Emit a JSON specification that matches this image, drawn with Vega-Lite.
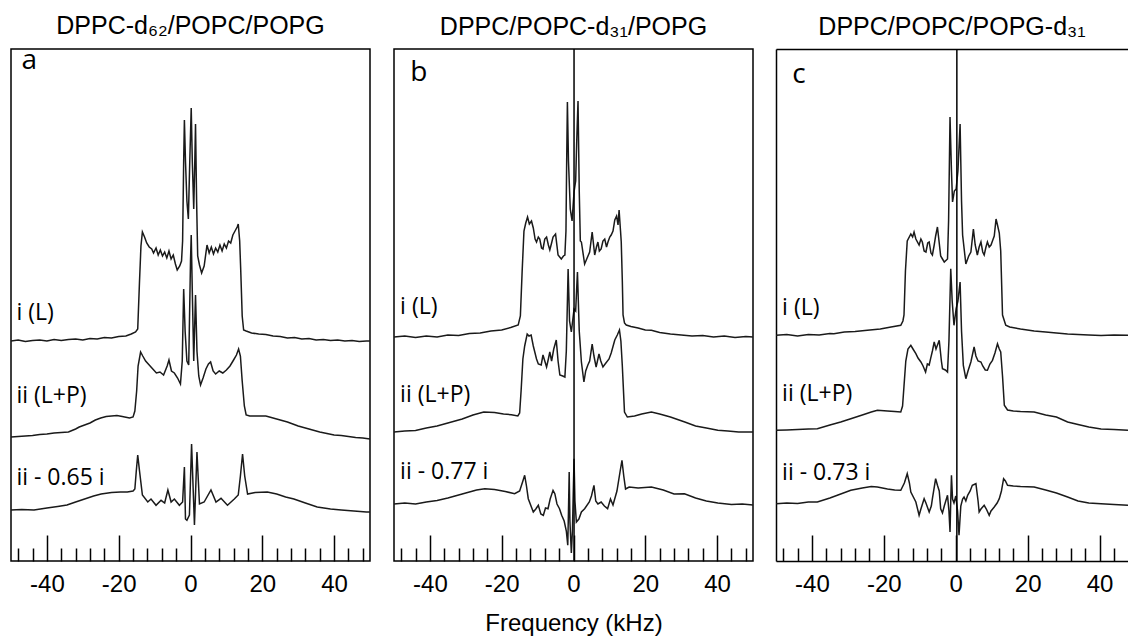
{
  "$schema": "https://vega.github.io/schema/vega-lite/v6.json",
  "padding": {"left": 10, "top": 13, "right": 0, "bottom": 0},
  "background": "white",
  "spacing": 22,
  "config": {
    "view": {"stroke": "black", "strokeWidth": 1.5},
    "font": "Liberation Sans",
    "title": {"fontSize": 25, "fontWeight": "normal", "font": "Liberation Sans", "offset": 8, "baseline": "alphabetic", "color": "black"},
    "axis": {"labelFont": "Liberation Sans", "labelColor": "black", "titleFont": "Liberation Sans", "titleColor": "black", "grid": false}
  },
  "datasets": {
    "a": [
      {"s":"i","f":-50,"v":220},{"s":"i","f":-48,"v":221},{"s":"i","f":-46,"v":219.5},{"s":"i","f":-44,"v":220.5},{"s":"i","f":-42,"v":221},{"s":"i","f":-40,"v":220},{"s":"i","f":-38,"v":221.5},{"s":"i","f":-36,"v":220.5},{"s":"i","f":-34,"v":221.5},{"s":"i","f":-32,"v":222},{"s":"i","f":-30,"v":221},{"s":"i","f":-28,"v":222.5},{"s":"i","f":-26,"v":222},{"s":"i","f":-24,"v":223.5},{"s":"i","f":-22,"v":223},{"s":"i","f":-20,"v":224.5},{"s":"i","f":-18,"v":225},{"s":"i","f":-16.5,"v":227},{"s":"i","f":-15.3,"v":229},{"s":"i","f":-14.7,"v":232},{"s":"i","f":-14.2,"v":280},{"s":"i","f":-13.8,"v":315},{"s":"i","f":-13.4,"v":329},{"s":"i","f":-12.8,"v":324},{"s":"i","f":-12.2,"v":318},{"s":"i","f":-11.5,"v":314},{"s":"i","f":-10.8,"v":312},{"s":"i","f":-10.3,"v":308},{"s":"i","f":-9.6,"v":313},{"s":"i","f":-9,"v":306},{"s":"i","f":-8.4,"v":311},{"s":"i","f":-7.8,"v":305},{"s":"i","f":-7.2,"v":309},{"s":"i","f":-6.6,"v":303},{"s":"i","f":-6,"v":310},{"s":"i","f":-5.4,"v":302},{"s":"i","f":-4.8,"v":306},{"s":"i","f":-4.2,"v":297},{"s":"i","f":-3.7,"v":291},{"s":"i","f":-3,"v":295},{"s":"i","f":-2.5,"v":300},{"s":"i","f":-2.2,"v":320},{"s":"i","f":-1.9,"v":400},{"s":"i","f":-1.7,"v":441},{"s":"i","f":-1.4,"v":400},{"s":"i","f":-1.0,"v":360},{"s":"i","f":-0.6,"v":342},{"s":"i","f":-0.2,"v":400},{"s":"i","f":0.2,"v":453},{"s":"i","f":0.5,"v":400},{"s":"i","f":0.9,"v":352},{"s":"i","f":1.2,"v":400},{"s":"i","f":1.4,"v":437},{"s":"i","f":1.7,"v":360},{"s":"i","f":2.0,"v":305},{"s":"i","f":2.5,"v":296},{"s":"i","f":3.1,"v":288},{"s":"i","f":3.8,"v":295},{"s":"i","f":4.6,"v":316},{"s":"i","f":5.2,"v":308},{"s":"i","f":5.8,"v":314},{"s":"i","f":6.4,"v":307},{"s":"i","f":7,"v":313},{"s":"i","f":7.6,"v":309},{"s":"i","f":8.2,"v":316},{"s":"i","f":8.8,"v":310},{"s":"i","f":9.4,"v":317},{"s":"i","f":10,"v":313},{"s":"i","f":10.6,"v":320},{"s":"i","f":11.2,"v":318},{"s":"i","f":11.8,"v":326},{"s":"i","f":12.4,"v":330},{"s":"i","f":13,"v":334},{"s":"i","f":13.3,"v":337},{"s":"i","f":13.7,"v":320},{"s":"i","f":14.0,"v":290},{"s":"i","f":14.4,"v":245},{"s":"i","f":14.8,"v":231},{"s":"i","f":15.5,"v":230},{"s":"i","f":17,"v":228},{"s":"i","f":19,"v":227},{"s":"i","f":21,"v":226.5},{"s":"i","f":23,"v":225},{"s":"i","f":25,"v":224.5},{"s":"i","f":27,"v":223},{"s":"i","f":29,"v":223.5},{"s":"i","f":31,"v":222},{"s":"i","f":33,"v":222.5},{"s":"i","f":35,"v":221},{"s":"i","f":37,"v":221.5},{"s":"i","f":39,"v":220.5},{"s":"i","f":41,"v":221},{"s":"i","f":43,"v":220},{"s":"i","f":45,"v":220.5},{"s":"i","f":47,"v":219.5},{"s":"i","f":49,"v":220},{"s":"i","f":50,"v":220},
      {"s":"ii","f":-50,"v":124},{"s":"ii","f":-48,"v":124.5},{"s":"ii","f":-46,"v":125},{"s":"ii","f":-44,"v":125.5},{"s":"ii","f":-42,"v":126.5},{"s":"ii","f":-40,"v":127},{"s":"ii","f":-38,"v":128},{"s":"ii","f":-36,"v":128.5},{"s":"ii","f":-34,"v":129},{"s":"ii","f":-32,"v":132},{"s":"ii","f":-31,"v":134},{"s":"ii","f":-29.5,"v":136},{"s":"ii","f":-28,"v":138},{"s":"ii","f":-26.5,"v":141},{"s":"ii","f":-25,"v":143},{"s":"ii","f":-23.5,"v":144.5},{"s":"ii","f":-22,"v":145},{"s":"ii","f":-20.5,"v":145.5},{"s":"ii","f":-19,"v":144.5},{"s":"ii","f":-17,"v":143},{"s":"ii","f":-16,"v":144},{"s":"ii","f":-15.5,"v":150},{"s":"ii","f":-15,"v":170},{"s":"ii","f":-14.6,"v":195},{"s":"ii","f":-13.9,"v":209},{"s":"ii","f":-13.3,"v":205},{"s":"ii","f":-12.5,"v":200},{"s":"ii","f":-11.5,"v":196},{"s":"ii","f":-10.5,"v":192},{"s":"ii","f":-9.5,"v":188},{"s":"ii","f":-8.5,"v":189},{"s":"ii","f":-7.5,"v":186},{"s":"ii","f":-6.5,"v":195},{"s":"ii","f":-6,"v":201},{"s":"ii","f":-5.3,"v":190},{"s":"ii","f":-4.5,"v":188},{"s":"ii","f":-3.6,"v":183},{"s":"ii","f":-2.8,"v":177},{"s":"ii","f":-2.3,"v":200},{"s":"ii","f":-1.9,"v":272},{"s":"ii","f":-1.5,"v":230},{"s":"ii","f":-1.0,"v":200},{"s":"ii","f":-0.5,"v":196},{"s":"ii","f":0,"v":300},{"s":"ii","f":0.2,"v":326},{"s":"ii","f":0.5,"v":270},{"s":"ii","f":0.9,"v":200},{"s":"ii","f":1.2,"v":240},{"s":"ii","f":1.4,"v":266},{"s":"ii","f":1.8,"v":210},{"s":"ii","f":2.3,"v":185},{"s":"ii","f":2.8,"v":176},{"s":"ii","f":3.5,"v":183},{"s":"ii","f":4.3,"v":192},{"s":"ii","f":5,"v":197},{"s":"ii","f":5.6,"v":199},{"s":"ii","f":6.3,"v":190},{"s":"ii","f":7,"v":187},{"s":"ii","f":8,"v":190},{"s":"ii","f":9,"v":188},{"s":"ii","f":10,"v":191},{"s":"ii","f":11,"v":195},{"s":"ii","f":12,"v":201},{"s":"ii","f":12.8,"v":206},{"s":"ii","f":13.4,"v":212},{"s":"ii","f":13.9,"v":205},{"s":"ii","f":14.4,"v":180},{"s":"ii","f":15,"v":155},{"s":"ii","f":15.5,"v":146},{"s":"ii","f":16.5,"v":145},{"s":"ii","f":19,"v":145},{"s":"ii","f":21,"v":145},{"s":"ii","f":22.5,"v":143.5},{"s":"ii","f":24,"v":142},{"s":"ii","f":25.5,"v":140.5},{"s":"ii","f":27,"v":139},{"s":"ii","f":28.5,"v":137},{"s":"ii","f":30,"v":135},{"s":"ii","f":31.5,"v":133.5},{"s":"ii","f":33,"v":132},{"s":"ii","f":34.5,"v":130.5},{"s":"ii","f":36,"v":129},{"s":"ii","f":38,"v":127.5},{"s":"ii","f":40,"v":126},{"s":"ii","f":42,"v":125.5},{"s":"ii","f":44,"v":124.5},{"s":"ii","f":46,"v":123.5},{"s":"ii","f":48,"v":123},{"s":"ii","f":50,"v":122},
      {"s":"iii","f":-50,"v":51},{"s":"iii","f":-47,"v":51.5},{"s":"iii","f":-43.6,"v":51},{"s":"iii","f":-40,"v":53},{"s":"iii","f":-37,"v":54.5},{"s":"iii","f":-34.4,"v":56},{"s":"iii","f":-32,"v":59},{"s":"iii","f":-29.5,"v":62},{"s":"iii","f":-27,"v":65},{"s":"iii","f":-24.9,"v":67},{"s":"iii","f":-22,"v":68.5},{"s":"iii","f":-19.5,"v":69},{"s":"iii","f":-17.6,"v":69},{"s":"iii","f":-16,"v":70},{"s":"iii","f":-15.5,"v":72},{"s":"iii","f":-15.1,"v":90},{"s":"iii","f":-14.7,"v":106},{"s":"iii","f":-14.2,"v":90},{"s":"iii","f":-13.4,"v":66},{"s":"iii","f":-11.9,"v":59},{"s":"iii","f":-11,"v":62},{"s":"iii","f":-9.6,"v":55.7},{"s":"iii","f":-8.2,"v":60.7},{"s":"iii","f":-7.2,"v":58},{"s":"iii","f":-6.3,"v":71},{"s":"iii","f":-5.4,"v":59},{"s":"iii","f":-4.5,"v":62},{"s":"iii","f":-3.1,"v":55.7},{"s":"iii","f":-2.2,"v":59},{"s":"iii","f":-1.7,"v":94},{"s":"iii","f":-1.4,"v":42},{"s":"iii","f":-1.0,"v":40.7},{"s":"iii","f":-0.3,"v":46},{"s":"iii","f":0.3,"v":117},{"s":"iii","f":1.1,"v":36},{"s":"iii","f":1.8,"v":109},{"s":"iii","f":2.5,"v":57},{"s":"iii","f":3.8,"v":59},{"s":"iii","f":5.7,"v":71},{"s":"iii","f":7.1,"v":59},{"s":"iii","f":8.5,"v":62.7},{"s":"iii","f":10.3,"v":55.7},{"s":"iii","f":12.2,"v":62},{"s":"iii","f":13.3,"v":66},{"s":"iii","f":13.9,"v":85},{"s":"iii","f":14.5,"v":107},{"s":"iii","f":15.1,"v":85},{"s":"iii","f":15.9,"v":67},{"s":"iii","f":18,"v":68.5},{"s":"iii","f":21.4,"v":69},{"s":"iii","f":24,"v":67},{"s":"iii","f":26.5,"v":64},{"s":"iii","f":28.8,"v":62},{"s":"iii","f":32,"v":58},{"s":"iii","f":35.3,"v":54},{"s":"iii","f":39,"v":52},{"s":"iii","f":42,"v":51},{"s":"iii","f":45.5,"v":50},{"s":"iii","f":49,"v":49},{"s":"iii","f":50,"v":49}
    ],
    "b": [
      {"s":"i","f":-50,"v":224},{"s":"i","f":-47,"v":225},{"s":"i","f":-44,"v":223.5},{"s":"i","f":-41,"v":225},{"s":"i","f":-38,"v":224},{"s":"i","f":-35,"v":226},{"s":"i","f":-32,"v":225.5},{"s":"i","f":-29,"v":227.5},{"s":"i","f":-26,"v":228},{"s":"i","f":-23,"v":230},{"s":"i","f":-20,"v":231},{"s":"i","f":-17.5,"v":233.5},{"s":"i","f":-15.4,"v":236},{"s":"i","f":-14.8,"v":245},{"s":"i","f":-14.3,"v":290},{"s":"i","f":-13.8,"v":330},{"s":"i","f":-13.3,"v":338},{"s":"i","f":-12.8,"v":344},{"s":"i","f":-12.3,"v":337},{"s":"i","f":-11.7,"v":340},{"s":"i","f":-11.2,"v":333},{"s":"i","f":-10.7,"v":322},{"s":"i","f":-10.3,"v":319},{"s":"i","f":-9.8,"v":324},{"s":"i","f":-9.4,"v":322},{"s":"i","f":-8.9,"v":313},{"s":"i","f":-8.5,"v":312},{"s":"i","f":-8,"v":322},{"s":"i","f":-7.5,"v":324},{"s":"i","f":-7,"v":316},{"s":"i","f":-6.6,"v":311},{"s":"i","f":-6.1,"v":318},{"s":"i","f":-5.7,"v":324},{"s":"i","f":-5.0,"v":327},{"s":"i","f":-4.6,"v":315},{"s":"i","f":-4.3,"v":306},{"s":"i","f":-3.4,"v":302},{"s":"i","f":-2.8,"v":305},{"s":"i","f":-2.4,"v":306},{"s":"i","f":-2.1,"v":330},{"s":"i","f":-1.9,"v":400},{"s":"i","f":-1.7,"v":459},{"s":"i","f":-1.4,"v":400},{"s":"i","f":-0.9,"v":352},{"s":"i","f":-0.4,"v":340},{"s":"i","f":0.15,"v":369},{"s":"i","f":0.6,"v":380},{"s":"i","f":0.9,"v":420},{"s":"i","f":1.26,"v":460},{"s":"i","f":1.6,"v":370},{"s":"i","f":1.9,"v":320},{"s":"i","f":2.2,"v":319},{"s":"i","f":3.1,"v":297},{"s":"i","f":3.8,"v":303},{"s":"i","f":4.5,"v":309},{"s":"i","f":5.2,"v":329},{"s":"i","f":5.6,"v":316},{"s":"i","f":5.9,"v":306},{"s":"i","f":6.4,"v":314},{"s":"i","f":6.8,"v":319},{"s":"i","f":7.2,"v":310},{"s":"i","f":7.7,"v":312},{"s":"i","f":8.2,"v":320},{"s":"i","f":8.7,"v":322},{"s":"i","f":9.2,"v":314},{"s":"i","f":9.6,"v":319},{"s":"i","f":10.1,"v":324},{"s":"i","f":10.5,"v":326},{"s":"i","f":11,"v":330},{"s":"i","f":11.5,"v":341},{"s":"i","f":12,"v":345},{"s":"i","f":12.4,"v":336},{"s":"i","f":12.7,"v":351},{"s":"i","f":13.1,"v":330},{"s":"i","f":13.3,"v":319},{"s":"i","f":13.6,"v":280},{"s":"i","f":13.8,"v":246},{"s":"i","f":14.2,"v":238},{"s":"i","f":14.7,"v":236},{"s":"i","f":16,"v":234.5},{"s":"i","f":18,"v":233},{"s":"i","f":20,"v":231},{"s":"i","f":21.7,"v":230.7},{"s":"i","f":24,"v":228.5},{"s":"i","f":27,"v":227},{"s":"i","f":30,"v":226},{"s":"i","f":33,"v":225},{"s":"i","f":36,"v":225.5},{"s":"i","f":39,"v":224},{"s":"i","f":42,"v":225},{"s":"i","f":45,"v":223.5},{"s":"i","f":48,"v":224.5},{"s":"i","f":50,"v":224},
      {"s":"ii","f":-50,"v":129},{"s":"ii","f":-47,"v":130},{"s":"ii","f":-44,"v":130.5},{"s":"ii","f":-41,"v":133},{"s":"ii","f":-38,"v":135},{"s":"ii","f":-35,"v":138},{"s":"ii","f":-34,"v":139},{"s":"ii","f":-31,"v":142},{"s":"ii","f":-28,"v":146},{"s":"ii","f":-25,"v":149},{"s":"ii","f":-22,"v":148.5},{"s":"ii","f":-19.5,"v":147},{"s":"ii","f":-17.3,"v":146.3},{"s":"ii","f":-15.5,"v":145},{"s":"ii","f":-15,"v":148},{"s":"ii","f":-14.6,"v":170},{"s":"ii","f":-14.1,"v":202},{"s":"ii","f":-13.6,"v":215},{"s":"ii","f":-12.9,"v":227},{"s":"ii","f":-12.4,"v":225},{"s":"ii","f":-11.8,"v":226},{"s":"ii","f":-11.2,"v":215},{"s":"ii","f":-10.3,"v":202},{"s":"ii","f":-9.8,"v":197},{"s":"ii","f":-9.0,"v":196},{"s":"ii","f":-8.5,"v":206},{"s":"ii","f":-8.0,"v":200},{"s":"ii","f":-7.5,"v":194},{"s":"ii","f":-7,"v":202},{"s":"ii","f":-6.6,"v":209},{"s":"ii","f":-6.1,"v":200},{"s":"ii","f":-5.5,"v":212},{"s":"ii","f":-4.8,"v":221},{"s":"ii","f":-4.3,"v":200},{"s":"ii","f":-3.8,"v":186},{"s":"ii","f":-3.0,"v":185},{"s":"ii","f":-2.4,"v":184},{"s":"ii","f":-2.0,"v":210},{"s":"ii","f":-1.5,"v":292},{"s":"ii","f":-1.1,"v":240},{"s":"ii","f":-0.6,"v":229},{"s":"ii","f":0.15,"v":252},{"s":"ii","f":0.6,"v":250},{"s":"ii","f":1.1,"v":289},{"s":"ii","f":1.6,"v":230},{"s":"ii","f":2.2,"v":199},{"s":"ii","f":2.9,"v":179},{"s":"ii","f":3.4,"v":190},{"s":"ii","f":4,"v":196},{"s":"ii","f":4.5,"v":200},{"s":"ii","f":5.2,"v":217},{"s":"ii","f":5.7,"v":205},{"s":"ii","f":6.3,"v":194},{"s":"ii","f":7.1,"v":207},{"s":"ii","f":7.6,"v":200},{"s":"ii","f":8.2,"v":194},{"s":"ii","f":8.6,"v":196},{"s":"ii","f":9.9,"v":202},{"s":"ii","f":10.5,"v":208},{"s":"ii","f":11.5,"v":221},{"s":"ii","f":12.2,"v":226},{"s":"ii","f":12.8,"v":231},{"s":"ii","f":13.2,"v":220},{"s":"ii","f":13.6,"v":195},{"s":"ii","f":14.2,"v":149},{"s":"ii","f":15,"v":144},{"s":"ii","f":17,"v":145},{"s":"ii","f":19,"v":147},{"s":"ii","f":21.7,"v":149},{"s":"ii","f":24,"v":147},{"s":"ii","f":27,"v":144},{"s":"ii","f":31,"v":139},{"s":"ii","f":34,"v":135},{"s":"ii","f":37,"v":133},{"s":"ii","f":40.2,"v":130.7},{"s":"ii","f":43,"v":130},{"s":"ii","f":46,"v":129},{"s":"ii","f":50,"v":129},
      {"s":"iii","f":-50,"v":57},{"s":"iii","f":-47,"v":58},{"s":"iii","f":-44,"v":57},{"s":"iii","f":-41,"v":59},{"s":"iii","f":-38,"v":60.5},{"s":"iii","f":-35,"v":63},{"s":"iii","f":-33,"v":65},{"s":"iii","f":-30,"v":68},{"s":"iii","f":-27,"v":71},{"s":"iii","f":-24.7,"v":72.3},{"s":"iii","f":-22,"v":71.5},{"s":"iii","f":-19,"v":69.5},{"s":"iii","f":-16.4,"v":67.3},{"s":"iii","f":-15,"v":70},{"s":"iii","f":-14.1,"v":80},{"s":"iii","f":-13.6,"v":85.7},{"s":"iii","f":-13.1,"v":75},{"s":"iii","f":-12.6,"v":62.3},{"s":"iii","f":-11.2,"v":49},{"s":"iii","f":-10.5,"v":52},{"s":"iii","f":-9.8,"v":55.7},{"s":"iii","f":-9.1,"v":47},{"s":"iii","f":-8.4,"v":45.7},{"s":"iii","f":-7.8,"v":53},{"s":"iii","f":-7.1,"v":52.3},{"s":"iii","f":-6.5,"v":62},{"s":"iii","f":-5.7,"v":70.7},{"s":"iii","f":-5.2,"v":67.3},{"s":"iii","f":-4.6,"v":57},{"s":"iii","f":-3.9,"v":52.3},{"s":"iii","f":-3.3,"v":45.7},{"s":"iii","f":-2.6,"v":40},{"s":"iii","f":-2.0,"v":30},{"s":"iii","f":-1.6,"v":15.7},{"s":"iii","f":-1.4,"v":50},{"s":"iii","f":-1.2,"v":89},{"s":"iii","f":-1.0,"v":40},{"s":"iii","f":-0.6,"v":8},{"s":"iii","f":-0.3,"v":30},{"s":"iii","f":0.15,"v":102.3},{"s":"iii","f":0.4,"v":60},{"s":"iii","f":0.8,"v":39},{"s":"iii","f":1.5,"v":42},{"s":"iii","f":2.2,"v":49},{"s":"iii","f":3.1,"v":52.3},{"s":"iii","f":4.4,"v":59},{"s":"iii","f":5.0,"v":65},{"s":"iii","f":5.7,"v":75.7},{"s":"iii","f":6.2,"v":60},{"s":"iii","f":6.8,"v":57},{"s":"iii","f":7.7,"v":59},{"s":"iii","f":8.6,"v":55},{"s":"iii","f":9.5,"v":52.3},{"s":"iii","f":10.3,"v":62},{"s":"iii","f":11,"v":56},{"s":"iii","f":12.1,"v":70},{"s":"iii","f":13.0,"v":90},{"s":"iii","f":13.5,"v":100.7},{"s":"iii","f":14.0,"v":85},{"s":"iii","f":14.5,"v":72},{"s":"iii","f":15.5,"v":74},{"s":"iii","f":18,"v":73},{"s":"iii","f":21.7,"v":74},{"s":"iii","f":25,"v":71},{"s":"iii","f":28,"v":67},{"s":"iii","f":30.9,"v":67.3},{"s":"iii","f":34,"v":63},{"s":"iii","f":37,"v":60},{"s":"iii","f":40.2,"v":58},{"s":"iii","f":44,"v":56.5},{"s":"iii","f":47,"v":57},{"s":"iii","f":50,"v":56}
    ],
    "c": [
      {"s":"i","f":-50,"v":225.7},{"s":"i","f":-47,"v":226.5},{"s":"i","f":-44,"v":225},{"s":"i","f":-41,"v":226.5},{"s":"i","f":-38,"v":226},{"s":"i","f":-35,"v":227.5},{"s":"i","f":-33.9,"v":227.3},{"s":"i","f":-31,"v":229},{"s":"i","f":-28,"v":229.5},{"s":"i","f":-24.6,"v":230.7},{"s":"i","f":-21,"v":232},{"s":"i","f":-18,"v":234},{"s":"i","f":-15.3,"v":235.7},{"s":"i","f":-14.7,"v":240},{"s":"i","f":-14.4,"v":246},{"s":"i","f":-14.0,"v":290},{"s":"i","f":-13.5,"v":320},{"s":"i","f":-12.5,"v":327},{"s":"i","f":-12,"v":324},{"s":"i","f":-11.6,"v":329},{"s":"i","f":-11.1,"v":322},{"s":"i","f":-10.2,"v":316},{"s":"i","f":-9.7,"v":322},{"s":"i","f":-9.3,"v":319},{"s":"i","f":-8.8,"v":310},{"s":"i","f":-8.3,"v":309},{"s":"i","f":-7.8,"v":318},{"s":"i","f":-7.4,"v":319},{"s":"i","f":-6.9,"v":308},{"s":"i","f":-6.5,"v":306},{"s":"i","f":-6.0,"v":316},{"s":"i","f":-5.6,"v":325},{"s":"i","f":-5.1,"v":334},{"s":"i","f":-4.6,"v":318},{"s":"i","f":-4.2,"v":305},{"s":"i","f":-3.7,"v":302},{"s":"i","f":-3.2,"v":299},{"s":"i","f":-2.3,"v":302},{"s":"i","f":-2.0,"v":340},{"s":"i","f":-1.6,"v":444},{"s":"i","f":-1.2,"v":390},{"s":"i","f":-0.9,"v":359},{"s":"i","f":-0.4,"v":370},{"s":"i","f":0.1,"v":372},{"s":"i","f":0.6,"v":390},{"s":"i","f":1.2,"v":437},{"s":"i","f":1.6,"v":360},{"s":"i","f":1.9,"v":326},{"s":"i","f":2.8,"v":297},{"s":"i","f":3.6,"v":305},{"s":"i","f":4.2,"v":309},{"s":"i","f":4.9,"v":332},{"s":"i","f":5.4,"v":316},{"s":"i","f":6.0,"v":306},{"s":"i","f":6.5,"v":314},{"s":"i","f":7.0,"v":319},{"s":"i","f":7.5,"v":309},{"s":"i","f":7.9,"v":306},{"s":"i","f":8.4,"v":314},{"s":"i","f":8.8,"v":319},{"s":"i","f":9.3,"v":314},{"s":"i","f":9.8,"v":316},{"s":"i","f":10.3,"v":321},{"s":"i","f":10.7,"v":325},{"s":"i","f":11.2,"v":342},{"s":"i","f":11.6,"v":336},{"s":"i","f":12.1,"v":328},{"s":"i","f":12.5,"v":310},{"s":"i","f":13.0,"v":246},{"s":"i","f":13.9,"v":235.7},{"s":"i","f":15,"v":234},{"s":"i","f":18,"v":232},{"s":"i","f":21.8,"v":230},{"s":"i","f":25,"v":229},{"s":"i","f":28,"v":228},{"s":"i","f":31.1,"v":227},{"s":"i","f":34,"v":226.5},{"s":"i","f":37,"v":226},{"s":"i","f":40.4,"v":225.5},{"s":"i","f":44,"v":226},{"s":"i","f":47.9,"v":225.7},
      {"s":"ii","f":-50,"v":130.7},{"s":"ii","f":-47,"v":131},{"s":"ii","f":-44,"v":131.5},{"s":"ii","f":-41,"v":132},{"s":"ii","f":-38.5,"v":132.3},{"s":"ii","f":-35,"v":136},{"s":"ii","f":-32,"v":139},{"s":"ii","f":-29.2,"v":142.3},{"s":"ii","f":-26,"v":146},{"s":"ii","f":-23.5,"v":149},{"s":"ii","f":-21.8,"v":150.7},{"s":"ii","f":-19,"v":150},{"s":"ii","f":-17,"v":149.5},{"s":"ii","f":-15.3,"v":149},{"s":"ii","f":-14.8,"v":155},{"s":"ii","f":-14.4,"v":175},{"s":"ii","f":-13.9,"v":200},{"s":"ii","f":-13.3,"v":212},{"s":"ii","f":-12.5,"v":215.7},{"s":"ii","f":-11.9,"v":212},{"s":"ii","f":-11.1,"v":207.3},{"s":"ii","f":-10.5,"v":203},{"s":"ii","f":-9.7,"v":199},{"s":"ii","f":-9.1,"v":195},{"s":"ii","f":-8.4,"v":189},{"s":"ii","f":-7.9,"v":197},{"s":"ii","f":-7.4,"v":196},{"s":"ii","f":-7.0,"v":202.3},{"s":"ii","f":-6.5,"v":210},{"s":"ii","f":-6.0,"v":219},{"s":"ii","f":-5.5,"v":212},{"s":"ii","f":-4.6,"v":220.7},{"s":"ii","f":-4.0,"v":200},{"s":"ii","f":-3.7,"v":192.3},{"s":"ii","f":-2.9,"v":191},{"s":"ii","f":-2.3,"v":189},{"s":"ii","f":-1.9,"v":220},{"s":"ii","f":-1.4,"v":292.3},{"s":"ii","f":-1.0,"v":260},{"s":"ii","f":-0.5,"v":235.7},{"s":"ii","f":0.1,"v":252.3},{"s":"ii","f":0.6,"v":260},{"s":"ii","f":1.2,"v":279},{"s":"ii","f":1.6,"v":230},{"s":"ii","f":2.1,"v":195.7},{"s":"ii","f":2.8,"v":182.3},{"s":"ii","f":3.4,"v":190},{"s":"ii","f":4.2,"v":199},{"s":"ii","f":5.1,"v":214},{"s":"ii","f":5.6,"v":205},{"s":"ii","f":6.2,"v":200},{"s":"ii","f":7.0,"v":199},{"s":"ii","f":7.5,"v":195},{"s":"ii","f":8.2,"v":191},{"s":"ii","f":8.8,"v":190.7},{"s":"ii","f":9.5,"v":197},{"s":"ii","f":10.2,"v":200.7},{"s":"ii","f":10.9,"v":208},{"s":"ii","f":11.6,"v":217.3},{"s":"ii","f":12.1,"v":212},{"s":"ii","f":12.5,"v":209},{"s":"ii","f":13.0,"v":185},{"s":"ii","f":13.5,"v":155.7},{"s":"ii","f":14.4,"v":151},{"s":"ii","f":16,"v":150},{"s":"ii","f":18,"v":149.5},{"s":"ii","f":21.8,"v":149},{"s":"ii","f":25,"v":146},{"s":"ii","f":28,"v":144},{"s":"ii","f":31.1,"v":139},{"s":"ii","f":34,"v":136.5},{"s":"ii","f":37,"v":134},{"s":"ii","f":40.4,"v":132},{"s":"ii","f":44,"v":131.5},{"s":"ii","f":47.9,"v":130.7},
      {"s":"iii","f":-50,"v":57.3},{"s":"iii","f":-47,"v":58},{"s":"iii","f":-44,"v":57.5},{"s":"iii","f":-41,"v":59},{"s":"iii","f":-38.5,"v":59},{"s":"iii","f":-35,"v":63},{"s":"iii","f":-32,"v":67},{"s":"iii","f":-29.2,"v":70.7},{"s":"iii","f":-26,"v":73},{"s":"iii","f":-23.5,"v":74.5},{"s":"iii","f":-21.8,"v":74},{"s":"iii","f":-19,"v":72},{"s":"iii","f":-17,"v":71},{"s":"iii","f":-15.3,"v":70.7},{"s":"iii","f":-14.3,"v":78},{"s":"iii","f":-13.5,"v":87.3},{"s":"iii","f":-12.9,"v":78},{"s":"iii","f":-12.5,"v":69},{"s":"iii","f":-11.1,"v":59},{"s":"iii","f":-10.2,"v":45.7},{"s":"iii","f":-9.7,"v":52},{"s":"iii","f":-8.8,"v":62.3},{"s":"iii","f":-8.3,"v":58},{"s":"iii","f":-7.4,"v":49},{"s":"iii","f":-6.8,"v":55},{"s":"iii","f":-6.5,"v":62.3},{"s":"iii","f":-5.6,"v":82.3},{"s":"iii","f":-5.1,"v":75.7},{"s":"iii","f":-4.6,"v":70},{"s":"iii","f":-4.2,"v":52.3},{"s":"iii","f":-3.7,"v":48},{"s":"iii","f":-3.2,"v":55},{"s":"iii","f":-2.3,"v":65.7},{"s":"iii","f":-1.9,"v":50},{"s":"iii","f":-1.6,"v":29},{"s":"iii","f":-1.4,"v":60},{"s":"iii","f":-1.2,"v":85.7},{"s":"iii","f":-0.9,"v":62},{"s":"iii","f":-0.5,"v":58},{"s":"iii","f":0,"v":65},{"s":"iii","f":0.5,"v":50},{"s":"iii","f":0.9,"v":25.7},{"s":"iii","f":1.4,"v":55},{"s":"iii","f":1.9,"v":62},{"s":"iii","f":2.3,"v":64},{"s":"iii","f":2.8,"v":60},{"s":"iii","f":3.3,"v":65.7},{"s":"iii","f":4.0,"v":70},{"s":"iii","f":4.6,"v":75.7},{"s":"iii","f":5.6,"v":77.3},{"s":"iii","f":6.2,"v":60},{"s":"iii","f":6.5,"v":49},{"s":"iii","f":7.0,"v":52},{"s":"iii","f":7.9,"v":55.7},{"s":"iii","f":8.5,"v":52},{"s":"iii","f":9.3,"v":45.7},{"s":"iii","f":9.8,"v":50},{"s":"iii","f":10.7,"v":54},{"s":"iii","f":11.5,"v":58},{"s":"iii","f":12.1,"v":62.3},{"s":"iii","f":12.7,"v":70},{"s":"iii","f":13.3,"v":82.3},{"s":"iii","f":13.8,"v":80},{"s":"iii","f":14.4,"v":75.7},{"s":"iii","f":16,"v":75},{"s":"iii","f":18,"v":74.5},{"s":"iii","f":21.8,"v":74},{"s":"iii","f":25,"v":71},{"s":"iii","f":28,"v":68},{"s":"iii","f":31.1,"v":64},{"s":"iii","f":34,"v":60},{"s":"iii","f":37,"v":58},{"s":"iii","f":40.4,"v":57.3},{"s":"iii","f":44,"v":56.5},{"s":"iii","f":47.9,"v":55.7}
    ],
    "labels": [
      {"p":"a","t":"i (L)","f":-48.5,"v":248},{"p":"a","t":"ii (L+P)","f":-48.5,"v":165},{"p":"a","t":"ii - 0.65 i","f":-48.5,"v":83},
      {"p":"b","t":"i (L)","f":-48.3,"v":254},{"p":"b","t":"ii (L+P)","f":-48.3,"v":166},{"p":"b","t":"ii - 0.77 i","f":-48.3,"v":89},
      {"p":"c","t":"i (L)","f":-48.3,"v":253},{"p":"c","t":"ii (L+P)","f":-48.3,"v":167},{"p":"c","t":"ii - 0.73 i","f":-48.3,"v":88}
    ],
    "letters": [
      {"p":"a","t":"a","f":-47.1,"v":492},{"p":"b","t":"b","f":-45.5,"v":480},{"p":"c","t":"c","f":-45.5,"v":478}
    ]
  },
  "hconcat": [
    {
      "width": 359, "height": 512,
      "title": "DPPC-d₆₂/POPC/POPG",
      "resolve": {"axis": {"x": "independent", "y": "independent"}},
      "layer": [
        {
          "data": {"name": "a"},
          "mark": {"type": "line", "color": "#1a1a1a", "strokeWidth": 1.5, "clip": true},
          "encoding": {
            "x": {"field": "f", "type": "quantitative", "scale": {"domain": [-50, 50], "nice": false, "zero": false},
              "axis": {"orient": "bottom", "values": [-48,-44,-40,-36,-32,-28,-24,-20,-16,-12,-8,-4,0,4,8,12,16,20,24,28,32,36,40,44,48],
                "tickSize": {"condition": {"test": "datum.value % 20 === 0", "value": -26}, "value": -13},
                "tickColor": "black", "tickWidth": 1.5, "domain": false,
                "labelExpr": "datum.value % 20 === 0 ? '' + datum.value : ''",
                "labelFontSize": 24, "labelPadding": 37, "labelFlush": false, "labelOverlap": false, "title": null}},
            "y": {"field": "v", "type": "quantitative", "scale": {"domain": [0, 512], "nice": false}, "axis": null},
            "detail": {"field": "s"}
          }
        },
        {
          "data": {"name": "labels"},
          "transform": [{"filter": "datum.p === 'a'"}],
          "mark": {"type": "text", "align": "left", "baseline": "middle", "font": "Open Sans", "fontSize": 23, "color": "black"},
          "encoding": {
            "x": {"field": "f", "type": "quantitative", "axis": null},
            "y": {"field": "v", "type": "quantitative", "axis": null},
            "text": {"field": "t"}
          }
        },
        {
          "data": {"name": "letters"},
          "transform": [{"filter": "datum.p === 'a'"}],
          "mark": {"type": "text", "align": "left", "baseline": "alphabetic", "font": "Open Sans", "fontSize": 28, "color": "black"},
          "encoding": {
            "x": {"field": "f", "type": "quantitative", "axis": null},
            "y": {"field": "v", "type": "quantitative", "axis": null},
            "text": {"field": "t"}
          }
        }
      ]
    },
    {
      "width": 359, "height": 512,
      "title": "DPPC/POPC-d₃₁/POPG",
      "resolve": {"axis": {"x": "independent", "y": "independent"}},
      "layer": [
        {
          "data": {"name": "b"},
          "mark": {"type": "line", "color": "#1a1a1a", "strokeWidth": 1.5, "clip": true},
          "encoding": {
            "x": {"field": "f", "type": "quantitative", "scale": {"domain": [-50, 50], "nice": false, "zero": false},
              "axis": {"orient": "bottom", "values": [-48,-44,-40,-36,-32,-28,-24,-20,-16,-12,-8,-4,0,4,8,12,16,20,24,28,32,36,40,44,48],
                "tickSize": {"condition": {"test": "datum.value % 20 === 0", "value": -26}, "value": -13},
                "tickColor": "black", "tickWidth": 1.5, "domain": false,
                "labelExpr": "datum.value % 20 === 0 ? '' + datum.value : ''",
                "labelFontSize": 24, "labelPadding": 37, "labelFlush": false, "labelOverlap": false,
                "title": "Frequency (kHz)", "titleFontSize": 24, "titleFontWeight": "normal", "titlePadding": 2}},
            "y": {"field": "v", "type": "quantitative", "scale": {"domain": [0, 512], "nice": false}, "axis": null},
            "detail": {"field": "s"}
          }
        },
        {
          "data": {"values": [{"f": 0.15}]},
          "mark": {"type": "rule", "color": "black", "strokeWidth": 1.5},
          "encoding": {"x": {"field": "f", "type": "quantitative", "axis": null}}
        },
        {
          "data": {"name": "labels"},
          "transform": [{"filter": "datum.p === 'b'"}],
          "mark": {"type": "text", "align": "left", "baseline": "middle", "font": "Open Sans", "fontSize": 23, "color": "black"},
          "encoding": {
            "x": {"field": "f", "type": "quantitative", "axis": null},
            "y": {"field": "v", "type": "quantitative", "axis": null},
            "text": {"field": "t"}
          }
        },
        {
          "data": {"name": "letters"},
          "transform": [{"filter": "datum.p === 'b'"}],
          "mark": {"type": "text", "align": "left", "baseline": "alphabetic", "font": "Open Sans", "fontSize": 28, "color": "black"},
          "encoding": {
            "x": {"field": "f", "type": "quantitative", "axis": null},
            "y": {"field": "v", "type": "quantitative", "axis": null},
            "text": {"field": "t"}
          }
        }
      ]
    },
    {
      "width": 352, "height": 512,
      "title": "DPPC/POPC/POPG-d₃₁",
      "view": {"stroke": null},
      "resolve": {"axis": {"x": "independent", "y": "independent"}},
      "layer": [
        {
          "data": {"name": "c"},
          "mark": {"type": "line", "color": "#1a1a1a", "strokeWidth": 1.5, "clip": true},
          "encoding": {
            "x": {"field": "f", "type": "quantitative", "scale": {"domain": [-50, 47.9], "nice": false, "zero": false},
              "axis": {"orient": "bottom", "values": [-48,-44,-40,-36,-32,-28,-24,-20,-16,-12,-8,-4,0,4,8,12,16,20,24,28,32,36,40,44],
                "tickSize": {"condition": {"test": "datum.value % 20 === 0", "value": -26}, "value": -13},
                "tickColor": "black", "tickWidth": 1.5, "domain": true, "domainColor": "black", "domainWidth": 1.5,
                "labelExpr": "datum.value % 20 === 0 ? '' + datum.value : ''",
                "labelFontSize": 24, "labelPadding": 37, "labelFlush": false, "labelOverlap": false, "title": null}},
            "y": {"field": "v", "type": "quantitative", "scale": {"domain": [0, 512], "nice": false},
              "axis": {"orient": "left", "domain": true, "domainColor": "black", "domainWidth": 1.5, "ticks": false, "labels": false, "title": null}},
            "detail": {"field": "s"}
          }
        },
        {
          "data": {"values": [{"f": 0.3}]},
          "mark": {"type": "rule", "color": "black", "strokeWidth": 1.5},
          "encoding": {"x": {"field": "f", "type": "quantitative",
            "axis": {"orient": "top", "domain": true, "domainColor": "black", "domainWidth": 1.5, "ticks": false, "labels": false, "title": null}}}
        },
        {
          "data": {"name": "labels"},
          "transform": [{"filter": "datum.p === 'c'"}],
          "mark": {"type": "text", "align": "left", "baseline": "middle", "font": "Open Sans", "fontSize": 23, "color": "black"},
          "encoding": {
            "x": {"field": "f", "type": "quantitative", "axis": null},
            "y": {"field": "v", "type": "quantitative", "axis": null},
            "text": {"field": "t"}
          }
        },
        {
          "data": {"name": "letters"},
          "transform": [{"filter": "datum.p === 'c'"}],
          "mark": {"type": "text", "align": "left", "baseline": "alphabetic", "font": "Open Sans", "fontSize": 28, "color": "black"},
          "encoding": {
            "x": {"field": "f", "type": "quantitative", "axis": null},
            "y": {"field": "v", "type": "quantitative", "axis": null},
            "text": {"field": "t"}
          }
        }
      ]
    }
  ]
}
